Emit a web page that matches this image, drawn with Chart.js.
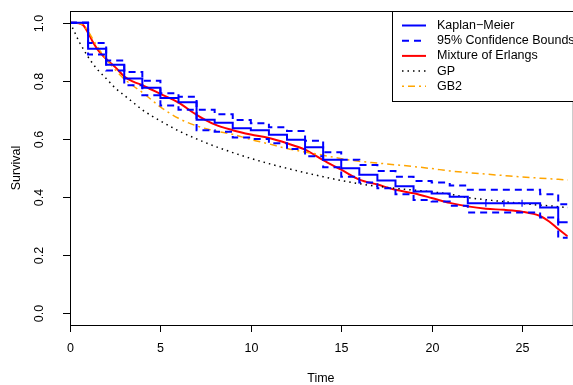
<!DOCTYPE html>
<html>
<head>
<meta charset="utf-8">
<script src="https://cdn.jsdelivr.net/npm/chart.js@4/dist/chart.umd.min.js"></script>
<style>
  html, body { margin: 0; padding: 0; background: #fff; }
  #wrap { width: 573px; height: 385px; position: relative; }
</style>
</head>
<body>
<div id="wrap"><canvas id="chart"></canvas></div>
<script>
// Kaplan-Meier steps (time the step starts, survival from then on)
const kmTime  = [0, 1, 2, 3, 4, 5, 6, 7, 8, 9, 10, 11, 12, 13, 14, 15, 16, 17, 18, 19, 20, 21, 22, 26, 27];
const kmSurv  = [1, 0.910, 0.855, 0.808, 0.776, 0.741, 0.726, 0.666, 0.656, 0.637, 0.630, 0.614, 0.597, 0.571, 0.528, 0.499, 0.477, 0.457, 0.437, 0.419, 0.412, 0.401, 0.379, 0.364, 0.313];
const ciUpper = [1, 0.930, 0.870, 0.830, 0.800, 0.757, 0.745, 0.700, 0.685, 0.665, 0.654, 0.640, 0.627, 0.594, 0.554, 0.528, 0.510, 0.490, 0.470, 0.455, 0.450, 0.440, 0.425, 0.410, 0.375];
const ciLower = [1, 0.890, 0.835, 0.785, 0.750, 0.715, 0.700, 0.630, 0.625, 0.605, 0.600, 0.585, 0.565, 0.540, 0.503, 0.470, 0.450, 0.430, 0.410, 0.390, 0.385, 0.370, 0.347, 0.330, 0.260];
const censorTime = [23, 24, 25];
const censorSurv = [0.379, 0.379, 0.379];

// fitted survival curves
const fitTime = [0, 0.25, 0.5, 0.75, 1, 1.25, 1.5, 2, 2.5, 3, 3.5, 4, 4.5, 5, 6, 7, 8, 9, 10, 11, 12, 13, 14, 15, 16, 17, 18, 19, 20, 21, 22, 23, 24, 25, 26, 26.5, 27, 27.53];
const erlangSurv = [1, 1, 0.998, 0.99, 0.965, 0.935, 0.910, 0.875, 0.847, 0.815, 0.797, 0.785, 0.770, 0.755, 0.725, 0.683, 0.650, 0.630, 0.615, 0.603, 0.585, 0.563, 0.527, 0.494, 0.460, 0.443, 0.425, 0.413, 0.397, 0.380, 0.368, 0.360, 0.356, 0.350, 0.335, 0.316, 0.290, 0.265];
const gpSurv = [1, 0.968, 0.935, 0.908, 0.882, 0.860, 0.840, 0.808, 0.775, 0.750, 0.725, 0.700, 0.680, 0.662, 0.628, 0.600, 0.575, 0.553, 0.533, 0.515, 0.499, 0.484, 0.470, 0.457, 0.446, 0.437, 0.430, 0.424, 0.418, 0.410, 0.398, 0.391, 0.384, 0.378, 0.372, 0.370, 0.367, 0.364];
const gb2Surv = [1, 1, 0.998, 0.990, 0.970, 0.945, 0.918, 0.875, 0.838, 0.806, 0.782, 0.760, 0.735, 0.710, 0.671, 0.645, 0.628, 0.616, 0.598, 0.583, 0.567, 0.555, 0.544, 0.532, 0.523, 0.517, 0.511, 0.505, 0.498, 0.490, 0.484, 0.479, 0.474, 0.469, 0.465, 0.463, 0.461, 0.459];

const xTicks = [0, 5, 10, 15, 20, 25];
const yTicks = [0.0, 0.2, 0.4, 0.6, 0.8, 1.0];
const X_MAX = 27.53;

function pts(xs, ys) {
    return xs.map((x, i) => ({ x: x, y: ys[i] }));
}
// extend a step function to the right edge
function steps(ys) {
    const p = pts(kmTime, ys);
    p.push({ x: X_MAX, y: ys[ys.length - 1] });
    return p;
}

const legendItems = [
    { text: 'Kaplan\u2212Meier', color: '#0000ff', dash: [], width: 2 },
    { text: '95% Confidence Bounds', color: '#0000ff', dash: [7, 5], width: 2 },
    { text: 'Mixture of Erlangs', color: '#ff0000', dash: [], width: 2 },
    { text: 'GP', color: '#000000', dash: [1.5, 4], width: 1.5 },
    { text: 'GB2', color: '#ffa500', dash: [2, 4, 7, 4], width: 1.5 }
];

// R style box, axes and legend
const rStyle = {
    id: 'rStyle',
    afterDraw(chart) {
        const ctx = chart.ctx;
        const xs = chart.scales.x, ys = chart.scales.y;
        const a = chart.chartArea;
        ctx.save();
        ctx.strokeStyle = '#000';
        ctx.lineWidth = 1;
        ctx.setLineDash([]);
        ctx.strokeRect(a.left + 0.5, a.top + 0.5, a.right - a.left + 5, a.bottom - a.top);

        ctx.fillStyle = '#000';
        ctx.font = '12.5px "Liberation Sans", Arial, sans-serif';
        // x axis
        ctx.textAlign = 'center';
        ctx.textBaseline = 'middle';
        xTicks.forEach(v => {
            const px = Math.round(xs.getPixelForValue(v)) + 0.5;
            ctx.beginPath();
            ctx.moveTo(px, a.bottom);
            ctx.lineTo(px, a.bottom + 7);
            ctx.stroke();
            ctx.fillText(String(v), px, a.bottom + 24);
        });
        ctx.fillText('Time', (xs.getPixelForValue(0) + xs.getPixelForValue(27.53)) / 2 + 2, 379);
        // y axis
        yTicks.forEach(v => {
            const py = Math.round(ys.getPixelForValue(v)) + 0.5;
            ctx.beginPath();
            ctx.moveTo(a.left, py);
            ctx.lineTo(a.left - 7, py);
            ctx.stroke();
            ctx.save();
            ctx.translate(a.left - 30, py);
            ctx.rotate(-Math.PI / 2);
            ctx.fillText(v.toFixed(1), 0, 0);
            ctx.restore();
        });
        ctx.save();
        ctx.translate(17, (ys.getPixelForValue(0) + ys.getPixelForValue(1)) / 2);
        ctx.rotate(-Math.PI / 2);
        ctx.fillText('Survival', 0, 0);
        ctx.restore();

        // legend box
        const lx = 392, ly = a.top;
        ctx.fillStyle = '#fff';
        ctx.fillRect(lx, ly, 200, 90);
        ctx.strokeRect(lx + 0.5, ly + 0.5, 200, 90);
        ctx.textAlign = 'left';
        legendItems.forEach((it, i) => {
            const y = ly + 14.5 + i * 15.2;
            ctx.strokeStyle = it.color;
            ctx.lineWidth = it.width;
            ctx.setLineDash(it.dash);
            ctx.beginPath();
            ctx.moveTo(402, y);
            ctx.lineTo(426, y);
            ctx.stroke();
            ctx.fillStyle = '#000';
            ctx.fillText(it.text, 437, y);
        });
        ctx.restore();
    }
};

new Chart(document.getElementById('chart'), {
    type: 'line',
    data: {
        datasets: [
            {
                label: 'Kaplan-Meier',
                data: steps(kmSurv),
                borderColor: '#0000ff',
                borderWidth: 2,
                stepped: true,
                pointRadius: 0
            },
            {
                label: 'Upper',
                data: steps(ciUpper),
                borderColor: '#0000ff',
                borderWidth: 2,
                borderDash: [7, 5],
                stepped: true,
                pointRadius: 0
            },
            {
                label: 'Lower',
                data: steps(ciLower),
                borderColor: '#0000ff',
                borderWidth: 2,
                borderDash: [7, 5],
                stepped: true,
                pointRadius: 0
            },
            {
                label: 'Censored',
                data: pts(censorTime, censorSurv),
                showLine: false,
                pointStyle: 'line',
                rotation: 90,
                pointRadius: 3.5,
                borderColor: '#0000ff',
                borderWidth: 1.2
            },
            {
                label: 'GP',
                data: pts(fitTime, gpSurv),
                borderColor: '#000000',
                borderWidth: 1.5,
                borderDash: [1.5, 4],
                cubicInterpolationMode: 'monotone',
                pointRadius: 0
            },
            {
                label: 'GB2',
                data: pts(fitTime, gb2Surv),
                borderColor: '#ffa500',
                borderWidth: 1.5,
                borderDash: [2, 4, 7, 4],
                cubicInterpolationMode: 'monotone',
                pointRadius: 0
            },
            {
                label: 'Mixture of Erlangs',
                data: pts(fitTime, erlangSurv),
                borderColor: '#ff0000',
                borderWidth: 2,
                cubicInterpolationMode: 'monotone',
                pointRadius: 0
            }
        ]
    },
    options: {
        responsive: true,
        maintainAspectRatio: false,
        animation: false,
        layout: {
            padding: { left: 70, top: 11, right: 0, bottom: 60 }
        },
        plugins: {
            legend: { display: false },
            tooltip: { enabled: false }
        },
        scales: {
            x: {
                type: 'linear',
                min: 0,
                max: X_MAX,
                display: false
            },
            y: {
                min: -0.04,
                max: 1.04,
                display: false
            }
        }
    },
    plugins: [rStyle]
});
</script>
</body>
</html>
